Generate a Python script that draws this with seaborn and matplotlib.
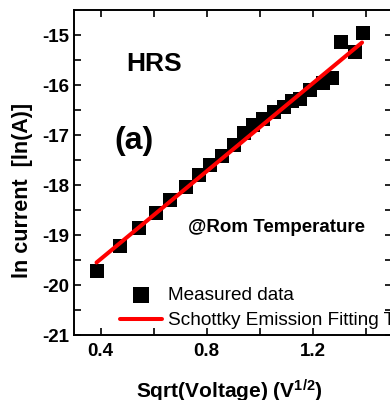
import matplotlib
matplotlib.use('Agg')
import matplotlib.pyplot as plt
import seaborn as sns
import numpy as np
import pandas as pd

# data: sqrt(V) vs ln(I), HRS state
sqrt_v = [0.388, 0.473, 0.547, 0.608, 0.664, 0.721, 0.771, 0.815, 0.857, 0.902,
          0.940, 0.977, 1.015, 1.053, 1.091, 1.121, 1.151, 1.192, 1.238, 1.275,
          1.306, 1.362, 1.389]
ln_i = [-19.71, -19.22, -18.85, -18.55, -18.29, -18.03, -17.80, -17.60, -17.42, -17.20,
        -16.96, -16.80, -16.68, -16.54, -16.44, -16.32, -16.28, -16.10, -15.96, -15.86,
        -15.14, -15.34, -14.96]

# Schottky emission fit endpoints
fit_x = [0.385, 1.387]
fit_y = [-19.55, -15.15]

x_ticks = [0.4, 0.8, 1.2]
y_ticks = [-21, -20, -19, -18, -17, -16, -15]

df = pd.DataFrame({'x': sqrt_v, 'y': ln_i})
df_fit = pd.DataFrame({'x': fit_x, 'y': fit_y})

sns.set_style('ticks')
plt.rcParams['font.family'] = ['Liberation Sans', 'DejaVu Sans']
plt.rcParams['text.color'] = 'black'
plt.rcParams['axes.labelcolor'] = 'black'
plt.rcParams['axes.unicode_minus'] = False
plt.rcParams['mathtext.fontset'] = 'custom'
plt.rcParams['mathtext.rm'] = 'Liberation Sans:bold'
plt.rcParams['mathtext.bf'] = 'Liberation Sans:bold'
plt.rcParams['mathtext.it'] = 'Liberation Sans:bold'

fig = plt.figure(figsize=(3.9, 4.0), dpi=100)
ax = fig.add_axes([74 / 390, 65 / 400, 318 / 390, 325 / 400])

sns.scatterplot(data=df, x='x', y='y', marker='s', s=90, color='black',
                linewidth=0, ax=ax, label='Measured data', zorder=2)
sns.lineplot(data=df_fit, x='x', y='y', color='#ff0000', linewidth=2.9, ax=ax,
             label='Schottky Emission Fitting Theory', zorder=3)

ax.set_xlim(0.3, 1.5)
ax.set_ylim(-21, -14.5)
ax.set_xticks(x_ticks)
ax.set_yticks(y_ticks)
ax.set_xticks([0.6, 1.0, 1.4], minor=True)
ax.set_yticks(np.arange(-20.5, -14.5, 1.0), minor=True)
ax.tick_params(which='both', direction='in', top=True, right=True, width=1.2,
               length=5, labelsize=13.5, colors='black')
for lab in ax.get_xticklabels() + ax.get_yticklabels():
    lab.set_fontweight('bold')
ax.tick_params(axis='x', pad=6)
for sp in ax.spines.values():
    sp.set_linewidth(1.4)
    sp.set_color('black')
    sp.set_visible(True)

ax.set_xlabel(r'Sqrt(Voltage) (V$^{1/2}$)', fontsize=15, fontweight='bold')
ax.set_ylabel('ln current  [ln(A)]', fontsize=15.5, fontweight='bold')
ax.xaxis.set_label_coords(0.49, -0.132)
ax.yaxis.set_label_coords(-0.128, 0.445)

ax.text((154 - 74) / 318, (335 - 64) / 325, 'HRS', transform=ax.transAxes,
        fontsize=19, fontweight='bold', ha='center', va='center')
ax.text((134 - 74) / 318, (335 - 141) / 325, '(a)', transform=ax.transAxes,
        fontsize=23, fontweight='bold', ha='center', va='center')
ax.text((277 - 74) / 318, (335 - 228) / 325, '@Rom Temperature', transform=ax.transAxes,
        fontsize=13.5, fontweight='bold', ha='center', va='center')

leg = ax.legend(loc='upper left', bbox_to_anchor=(120 / 390, 1 - 287 / 400),
                bbox_transform=fig.transFigure, frameon=False, fontsize=13.7,
                borderpad=0, borderaxespad=0, handlelength=2.2, handletextpad=0.3,
                labelspacing=0.41, markerscale=1.15)
leg.set_zorder(5)

fig.savefig('out.png', dpi=100)
